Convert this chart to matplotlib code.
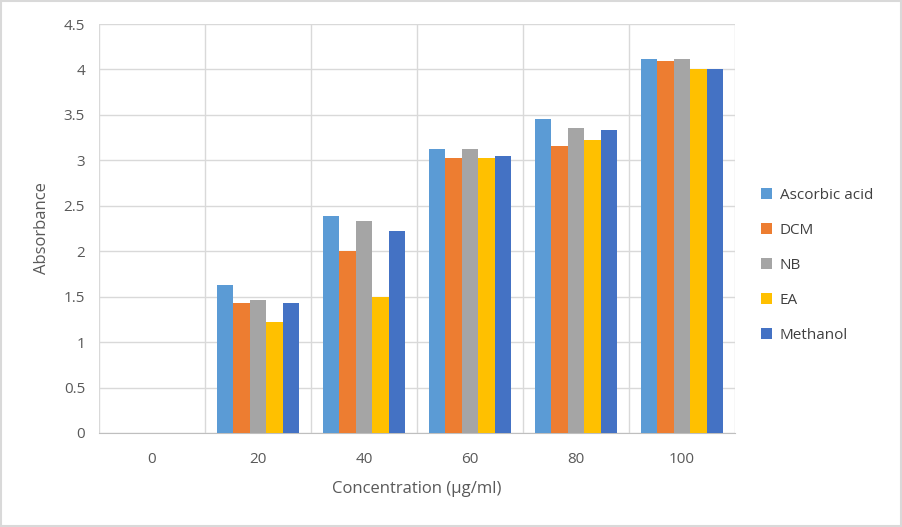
import matplotlib
matplotlib.use("Agg")
import matplotlib.pyplot as plt
import numpy as np
from matplotlib.patches import Rectangle

categories = ["0", "20", "40", "60", "80", "100"]
series_names = ["Ascorbic acid", "DCM", "NB", "EA", "Methanol"]
ascorbic = [0, 1.63, 2.39, 3.12, 3.45, 4.12]
dcm = [0, 1.43, 2.00, 3.03, 3.16, 4.09]
nb = [0, 1.46, 2.33, 3.12, 3.36, 4.11]
ea = [0, 1.22, 1.50, 3.03, 3.22, 4.00]
methanol = [0, 1.43, 2.22, 3.05, 3.33, 4.00]
colors = ["#5B9BD5", "#ED7D31", "#A5A5A5", "#FFC000", "#4472C4"]

plt.rcParams['font.family'] = ['Open Sans', 'DejaVu Sans']
fig = plt.figure(figsize=(9.02, 5.27), dpi=100)
ax = fig.add_axes([99/902, 1-433/527, (735-99)/902, (433-24)/527])

data = [ascorbic, dcm, nb, ea, methanol]
x = np.arange(len(categories))
w = 0.155
for i, (vals, c, n) in enumerate(zip(data, colors, series_names)):
    ax.bar(x + (i - 2) * w, vals, width=w, color=c, label=n, zorder=3)

ax.set_xlim(-0.5, len(categories) - 0.5)
ax.set_ylim(0, 4.5)
ax.set_yticks(np.arange(0, 4.51, 0.5))
ax.set_yticklabels(["0", "0.5", "1", "1.5", "2", "2.5", "3", "3.5", "4", "4.5"])
ax.set_xticks(x)
ax.set_xticklabels(categories)
ax.set_xticks(np.arange(-0.5, len(categories)), minor=True)
ax.grid(which='major', axis='y', color='#D9D9D9', linewidth=1, zorder=0)
ax.grid(which='minor', axis='x', color='#D9D9D9', linewidth=1, zorder=0)
ax.tick_params(axis='both', which='both', length=0, colors='#595959', labelsize=11)
ax.tick_params(axis='x', pad=14)
ax.tick_params(axis='y', pad=10)
for s in ['top', 'right', 'left']:
    ax.spines[s].set_visible(False)
ax.spines['bottom'].set_color('#BFBFBF')
ax.set_xlabel("Concentration (µg/ml)", fontsize=12, color='#595959', labelpad=10)
ax.set_ylabel("Absorbance", fontsize=12, color='#595959', labelpad=10)

leg = ax.legend(loc='center left', bbox_to_anchor=(1.02, 0.41), frameon=False,
                fontsize=11, labelcolor='#404040', handlelength=0.7, handleheight=0.7,
                labelspacing=1.3, handletextpad=0.5)

fig.patches.append(Rectangle((0.001, 0.001), 0.998, 0.997, transform=fig.transFigure,
                             fill=False, edgecolor='#D9D9D9', linewidth=1.5))
fig.savefig("out.png", dpi=100)
